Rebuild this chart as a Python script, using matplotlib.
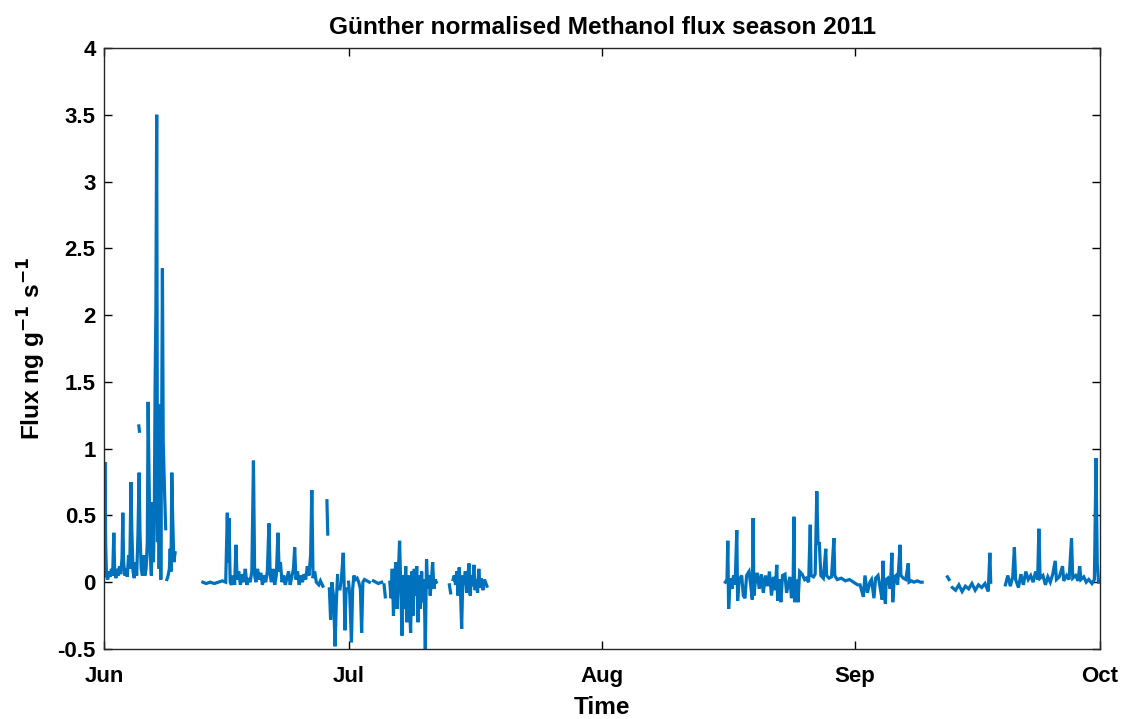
import numpy as np
import matplotlib
matplotlib.use('Agg')
import matplotlib.pyplot as plt
from datetime import datetime, timedelta

# time in days after 1 Jun 2011, flux in ng g-1 s-1 (nan = gap)
start = datetime(2011, 6, 1)

jun_early_t = [0.00, 0.10, 0.20, 0.30, 0.45, 0.60, 0.75, 0.90, 1.05, 1.20, 1.30, 1.45, 1.60, 1.75,
               1.90, 2.05, 2.20, 2.30, 2.40, 2.55, 2.70, 2.85, 3.00, 3.15, 3.30, 3.40, 3.55, 3.70,
               3.85, 4.00, 4.15, 4.30, 4.40, 4.55, 4.70, 4.85, 5.00, 5.15, 5.30, 5.40, 5.50, 5.65,
               5.80, 5.95, 6.05, 6.15, 6.25, 6.35, 6.45, 6.55, 6.65, 6.75, 6.85, 6.95, 7.05, 7.15,
               7.25, 7.40, 7.55, 7.62, 7.70, 7.85, 8.00, 8.10, 8.20, 8.30, 8.40, 8.55, 8.70]
jun_early_f = [0.05, 0.90, 0.28, 0.05, 0.02, 0.08, 0.04, 0.10, 0.05, 0.37, 0.08, 0.03, 0.10, 0.05,
               0.12, 0.06, 0.18, 0.52, 0.15, 0.05, 0.10, 0.04, 0.20, 0.10, 0.75, 0.40, 0.08, 0.03,
               0.15, 0.05, 0.35, 0.82, 0.38, 0.10, 0.05, 0.20, 0.05, 0.10, 0.30, 1.35, 0.85, 0.20,
               0.05, 0.60, 0.15, 0.45, 1.45, 2.05, 3.50, 0.30, 1.26, 0.10, 1.33, 0.02, 1.08, 2.35,
               1.05, 0.70, 0.40, np.nan, 0.02, 0.05, 0.10, 0.25, 0.08, 0.82, 0.50, 0.15, 0.22]

dash_t = [4.26, 4.34]
dash_f = [1.17, 1.13]

jun_late_t = [12.1, 12.5, 13.0, 13.5, 14.0, 14.5, 14.9, 15.1, 15.2, 15.3, 15.45, 15.6, 15.8, 16.0,
              16.15, 16.3, 16.5, 16.7, 16.9, 17.1, 17.3, 17.5, 17.7, 17.9, 18.1, 18.3, 18.45, 18.6,
              18.8, 19.0, 19.2, 19.4, 19.6, 19.8, 20.0, 20.2, 20.35, 20.5, 20.7, 20.9, 21.1, 21.3,
              21.45, 21.6, 21.8, 22.0, 22.2, 22.4, 22.6, 22.8, 23.0, 23.2, 23.35, 23.5, 23.7, 23.9,
              24.1, 24.3, 24.5, 24.7, 24.9, 25.1, 25.3, 25.45, 25.6, 25.8, 26.0, 26.3, 26.5, 26.8,
              27.0, 27.3, 27.4, 27.5, 27.6, 27.75, 27.9, 28.1, 28.3, 28.45, 28.6, 28.8, 28.9, 29.1,
              29.3, 29.4, 29.5, 29.65, 29.8, 29.95, 30.1, 30.3, 30.45, 30.6, 30.8, 31.0, 31.2, 31.4,
              31.55, 31.7, 31.9, 32.2, 32.5, 32.8, 33.0, 33.3, 33.6, 34.0, 34.2, 34.3, 34.45, 34.6]
jun_late_f = [0.00, -0.01, 0.00, -0.01, 0.00, 0.01, 0.00, 0.52, 0.15, 0.48, 0.00, -0.02, 0.05, -0.02,
              0.28, 0.02, 0.08, -0.02, 0.06, 0.00, 0.10, -0.02, 0.03, 0.00, 0.08, 0.91, 0.05, 0.00,
              0.10, 0.02, 0.07, -0.02, 0.05, 0.00, 0.08, 0.44, 0.05, 0.00, 0.10, -0.02, 0.05, 0.37,
              0.08, 0.15, 0.00, 0.05, -0.02, 0.03, 0.08, -0.02, 0.04, 0.10, 0.26, 0.02, 0.08, -0.02,
              0.05, 0.00, 0.06, 0.02, 0.12, 0.05, 0.20, 0.69, 0.03, 0.08, 0.00, -0.02, 0.01, -0.03,
              np.nan, 0.61, 0.36, np.nan, -0.05, -0.28, 0.00, -0.10, -0.48, -0.15, 0.05, np.nan, -0.05, 0.05,
              0.22, 0.00, -0.36, -0.05, np.nan, 0.00, -0.10, -0.45, -0.05, 0.05, 0.02, 0.03, 0.00, -0.05,
              -0.38, 0.00, 0.02, 0.01, 0.00, np.nan, 0.01, 0.00, -0.01, 0.00, np.nan, -0.02, -0.11, np.nan]

jul_t = [35.0, 35.15, 35.3, 35.45, 35.6, 35.75, 35.9, 36.05, 36.2, 36.35, 36.5, 36.65, 36.8, 36.95,
         37.1, 37.25, 37.4, 37.55, 37.7, 37.85, 38.0, 38.15, 38.3, 38.45, 38.6, 38.75, 38.9, 39.05,
         39.2, 39.35, 39.5, 39.65, 39.8, 39.95, 40.1, 40.25, 40.4, 40.55, 40.7,
         42.3, 42.45, 42.6, 42.75, 42.9, 43.05, 43.2, 43.35, 43.5, 43.65, 43.8, 43.95, 44.1, 44.25,
         44.4, 44.55, 44.7, 44.85, 45.0, 45.15, 45.3, 45.45, 45.6, 45.75, 45.9, 46.05, 46.2, 46.4,
         46.6, 46.9]
jul_f = [0.00, -0.12, 0.10, -0.25, 0.05, 0.15, -0.20, 0.08, 0.31, -0.05, -0.40, 0.05, -0.20, 0.12,
         -0.30, 0.05, -0.15, -0.38, 0.08, -0.25, 0.10, -0.10, 0.12, -0.30, 0.05, -0.20, 0.08, -0.15,
         0.02, -0.50, 0.17, -0.05, 0.05, -0.10, 0.02, 0.15, -0.05, 0.02, 0.00,
         -0.02, -0.08, np.nan, 0.02, 0.05, -0.02, 0.08, -0.10, 0.11, -0.05, -0.35, 0.05, -0.02, 0.08,
         -0.08, 0.03, 0.14, -0.10, 0.05, -0.03, 0.13, -0.06, 0.02, -0.08, 0.10, -0.04, 0.03, -0.06,
         0.02, -0.03]

aug_t = [76.1, 76.3, 76.4, 76.5, 76.7, 76.9, 77.1, 77.3, 77.5, 77.6, 77.8, 78.1, 78.3, 78.5, 78.7,
         79.0, 79.2, 79.4, 79.5, 79.6, 79.8, 80.0, 80.25, 80.5, 80.75, 81.0, 81.25, 81.5, 81.75,
         82.0, 82.2, 82.4, 82.5, 82.7, 82.9, 83.1, 83.4, 83.6, 84.0, 84.2, 84.4, 84.5, 84.6, 84.8,
         85.0, 85.2, 85.5, 85.8, 86.0, 86.3, 86.5, 86.6, 86.9, 87.1, 87.3, 87.45, 87.6, 87.8, 88.1,
         88.4, 88.5, 88.8, 89.1, 89.4, 89.5, 89.8, 90.3, 90.8, 91.3, 91.8, 92.3, 92.6, 93.0, 93.2,
         93.5, 93.8, 94.0, 94.3, 94.5, 94.8, 95.0, 95.3, 95.4, 95.5, 95.7, 95.8, 96.0, 96.3, 96.5,
         96.6, 96.8, 97.0, 97.2, 97.5, 97.6, 97.9, 98.2, 98.5, 98.6, 98.9, 99.2, 99.6, 100.0, 100.2]
aug_f = [0.00, 0.02, 0.31, -0.20, 0.03, -0.05, 0.05, -0.02, 0.39, -0.14, 0.02, 0.05, -0.10, -0.12,
         0.05, 0.08, -0.02, -0.13, 0.48, -0.10, 0.02, 0.07, -0.05, 0.06, -0.08, 0.05, -0.03, 0.08,
         -0.10, 0.04, -0.06, 0.13, -0.14, 0.02, -0.15, 0.05, 0.06, -0.08, 0.04, -0.12, 0.00, 0.49,
         -0.15, 0.02, -0.15, 0.08, 0.06, 0.02, 0.03, 0.00, 0.43, 0.05, 0.04, 0.06, 0.68, 0.28, 0.30,
         0.05, 0.03, 0.25, 0.05, 0.03, 0.04, 0.33, 0.05, 0.02, 0.03, 0.01, 0.02, 0.00, -0.02, -0.02,
         -0.11, 0.05, -0.08, 0.00, 0.02, -0.12, 0.03, 0.05, -0.02, -0.13, 0.16, 0.00, -0.16, 0.02,
         0.03, -0.05, 0.22, -0.15, 0.04, 0.05, -0.02, 0.28, 0.05, 0.03, 0.02, 0.14, 0.00, 0.01, 0.00,
         0.01, 0.00, 0.00]

sep_t = [103.3, 103.5, 103.7, 103.9, 104.3, 104.7, 105.1, 105.5, 105.9, 106.3, 106.7, 107.1, 107.5,
         107.9, 108.3, 108.5, 108.6,
         110.1, 110.4, 110.7, 111.0, 111.3, 111.5, 111.65, 112.0, 112.3, 112.6, 112.9, 113.2, 113.5,
         113.8, 114.1, 114.35, 114.5, 114.65, 115.0, 115.3, 115.6, 115.9, 116.2, 116.5, 116.65, 117.0,
         117.4, 117.55, 117.9, 118.2, 118.5, 118.65, 119.0, 119.3, 119.5, 119.65, 120.0, 120.3, 120.6,
         121.0, 121.3, 121.5, 121.65, 121.8, 122.0]
sep_f = [0.04, 0.02, np.nan, -0.04, -0.06, -0.02, -0.07, -0.03, -0.05, -0.01, -0.06, -0.02, -0.04,
         -0.01, -0.07, 0.22, 0.00,
         np.nan, -0.02, 0.05, -0.03, 0.04, 0.26, 0.02, -0.04, 0.06, -0.02, 0.08, 0.02, 0.05,
         0.00, 0.08, 0.02, 0.40, 0.03, 0.05, -0.02, 0.04, 0.00, 0.06, 0.16, 0.02, 0.04,
         0.12, 0.01, 0.05, 0.02, 0.33, 0.03, 0.05, 0.01, 0.12, 0.02, 0.04, 0.00, 0.02,
         -0.01, 0.02, 0.93, 0.14, 0.00, 0.00]

ytick_vals = [-0.5, 0, 0.5, 1, 1.5, 2, 2.5, 3, 3.5, 4]
ytick_labels = ['-0.5', '0', '0.5', '1', '1.5', '2', '2.5', '3', '3.5', '4']
xtick_dates = [datetime(2011, m, 1) for m in (6, 7, 8, 9, 10)]
xtick_labels = ['Jun', 'Jul', 'Aug', 'Sep', 'Oct']

plt.rcParams['font.family'] = ['Liberation Sans', 'DejaVu Sans']
plt.rcParams['font.weight'] = 'bold'
plt.rcParams['mathtext.default'] = 'bf'

fig = plt.figure(figsize=(11.26, 7.19), dpi=100)
ax = fig.add_axes([0.0924, 0.0974, 0.8846, 0.8359])

col = '#0072BD'
segments = [(jun_early_t, jun_early_f), (dash_t, dash_f), (jun_late_t, jun_late_f),
            (jul_t, jul_f), (aug_t, aug_f), (sep_t, sep_f)]
for t, f in segments:
    tt = np.array(t)
    ff = np.array(f, dtype=float)
    # break the line where the record has a gap of more than a day
    gaps = np.where(np.diff(tt) > 1.0)[0]
    tt = np.insert(tt, gaps + 1, tt[gaps] + 0.5)
    ff = np.insert(ff, gaps + 1, np.nan)
    dates = [start + timedelta(days=float(d)) for d in tt]
    ax.plot(dates, ff, color=col, lw=2.3, solid_joinstyle='miter')

ax.set_xlim(xtick_dates[0], xtick_dates[-1])
ax.set_ylim(-0.5, 4)
ax.set_xticks(xtick_dates)
ax.set_xticklabels(xtick_labels)
ax.set_yticks(ytick_vals)
ax.set_yticklabels(ytick_labels)
ax.tick_params(axis='both', direction='in', top=True, right=True, length=6, width=1, labelsize=16)
ax.tick_params(axis='x', pad=12)
ax.tick_params(axis='y', pad=6)
for s in ax.spines.values():
    s.set_linewidth(1.0)
    s.set_color('#262626')

ax.set_title('Günther normalised Methanol flux season 2011', fontsize=17.6, fontweight='bold', pad=10)
ax.set_xlabel('Time', fontsize=17.6, fontweight='bold', labelpad=7)
ax.set_ylabel('Flux ng g$^{-1}$ s$^{-1}$', fontsize=17.6, fontweight='bold', labelpad=7)

fig.savefig('out.png', dpi=100)
